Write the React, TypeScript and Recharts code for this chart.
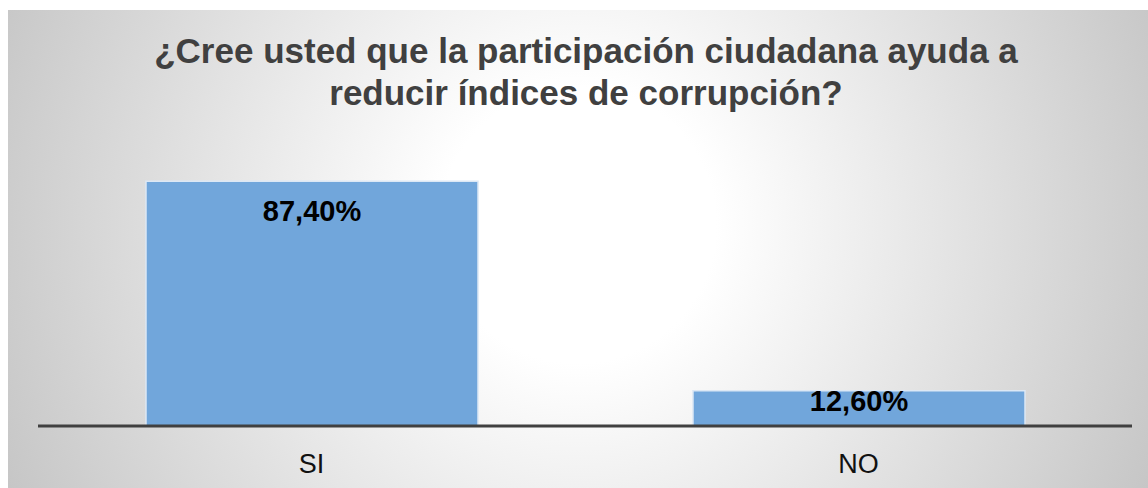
import React from 'react';
import { BarChart, Bar, XAxis, YAxis, LabelList } from 'recharts';

const categories = ['SI', 'NO'];
const percentages = [87.4, 12.6];
const valueLabels = ['87,40%', '12,60%'];

const data = categories.map((name, i) => ({
  name,
  value: percentages[i],
  label: valueLabels[i],
}));

const FONT = '"Liberation Sans", Arial, sans-serif';

// label sits deeper inside tall bars, hugs the top of short ones
function BarValueLabel(props: any) {
  const { x, y, width, height, value } = props;
  const dy = height > 60 ? 40 : 20;
  return (
    <text
      x={x + width / 2}
      y={y + dy}
      textAnchor="middle"
      fontFamily={FONT}
      fontWeight="bold"
      fontSize={29}
      fill="#000"
    >
      {value}
    </text>
  );
}

export default function App() {
  return (
    <div
      style={{
        position: 'absolute',
        left: 8,
        top: 10,
        width: 1140,
        height: 478,
        background:
          'radial-gradient(circle at 50% 45%, #ffffff 0%, #ffffff 22%, #c6c6c6 100%)',
        fontFamily: FONT,
      }}
    >
      <div
        style={{
          position: 'absolute',
          left: 8,
          top: 20,
          width: 1140,
          textAlign: 'center',
          fontSize: 35,
          lineHeight: '42px',
          fontWeight: 'bold',
          color: '#404040',
        }}
      >
        ¿Cree usted que la participación ciudadana ayuda a
        <br />
        reducir índices de corrupción?
      </div>
      <div style={{ position: 'absolute', left: 0, top: 0 }}>
        <BarChart
          width={1140}
          height={478}
          data={data}
          margin={{ top: 136, right: 16, left: 30, bottom: 12 }}
        >
          <YAxis hide domain={[0, 100]} />
          <XAxis
            dataKey="name"
            height={50}
            axisLine={{ stroke: '#404040', strokeWidth: 3 }}
            tickLine={false}
            tickSize={10}
            tickMargin={18}
            tick={{ fill: '#111', fontSize: 27, fontFamily: FONT }}
          />
          <Bar
            dataKey="value"
            barSize={332}
            fill="#71a6db"
            stroke="#dce8f5"
            strokeWidth={1.5}
            isAnimationActive={false}
          >
            <LabelList dataKey="label" content={BarValueLabel} />
          </Bar>
        </BarChart>
      </div>
    </div>
  );
}
